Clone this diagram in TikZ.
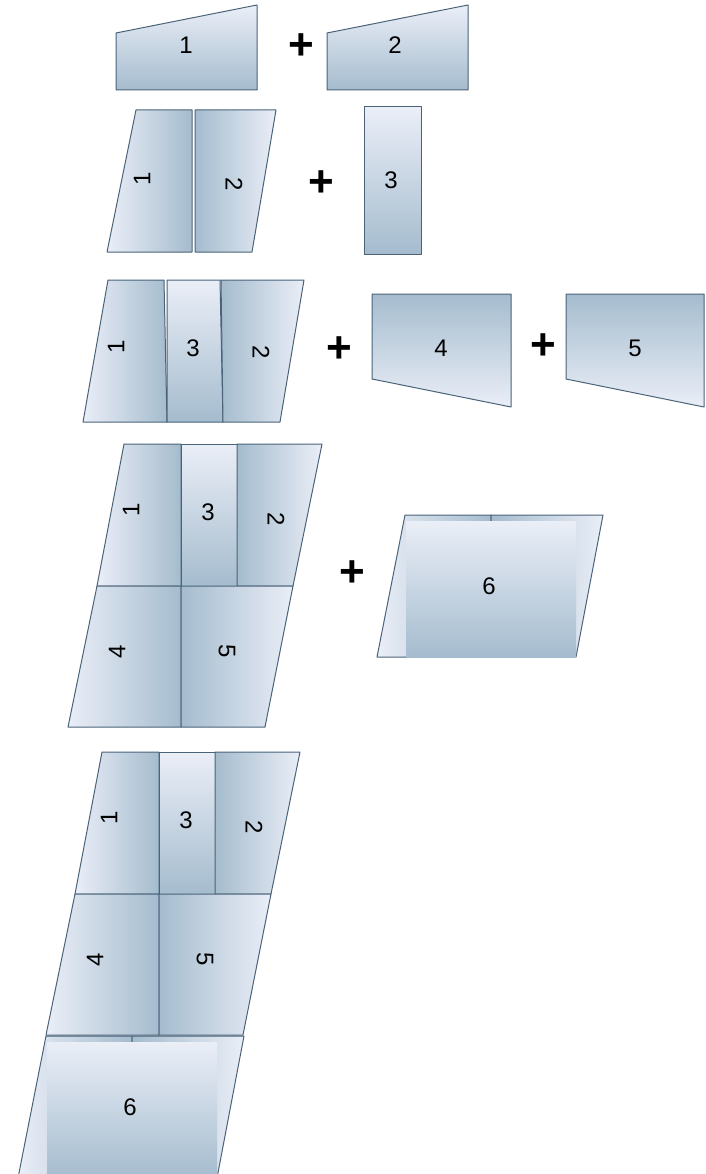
\documentclass[tikz,border=0pt]{standalone}
\usepackage{fontspec}
\setmainfont{Liberation Sans}
\definecolor{edge}{RGB}{74,99,121}
\definecolor{pale}{RGB}{234,238,247}
\definecolor{deep}{RGB}{165,188,206}
\begin{document}
\begin{tikzpicture}
[x=1pt, y=-1pt,
tile/.style={draw=edge, line width=1pt, line join=round},
lr/.style={tile, left color=pale, right color=deep},
rl/.style={tile, left color=deep, right color=pale},
tb/.style={tile, top color=pale, bottom color=deep},
bt/.style={tile, top color=deep, bottom color=pale},
num/.style={inner sep=0pt, font=\fontsize{24}{24}\selectfont},
plus/.style={inner sep=0pt, font=\fontsize{44}{44}\selectfont\bfseries}]
\path[use as bounding box, clip] (0,0) rectangle (706,1174);

% row 1
\path[tb] (116,33) -- (257,5) -- (257,90) -- (116,90) -- cycle;
\path[tb] (327,33) -- (468,5) -- (468,90) -- (327,90) -- cycle;
\node[num] (a1) at (186,45) {1};
\node[plus] (ap) at (301,47) {+};
\node[num] (a2) at (395,45) {2};

% row 2
\path[lr] (136,110) -- (192,110) -- (192,252) -- (107,252) -- cycle;
\path[rl] (195,110) -- (276,110) -- (252,252) -- (195,252) -- cycle;
\path[tb] (364,107) rectangle (421,254);
\node[num, rotate=90] (b1) at (142,179) {1};
\node[num, rotate=-90] (b2) at (234,184) {2};
\node[plus] (bp) at (321,184) {+};
\node[num] (b3) at (391,180) {3};

% row 3
\path[lr] (108,280) -- (164,280) -- (167,422) -- (83,422) -- cycle;
\path[tb] (167,280) -- (220,280) -- (223,422) -- (167,422) -- cycle;
\path[rl] (221,280) -- (304,280) -- (280,422) -- (223,422) -- cycle;
\path[bt] (372,294) -- (511,294) -- (511,407) -- (372,379) -- cycle;
\path[bt] (566,294) -- (704,294) -- (704,407) -- (566,379) -- cycle;
\node[num, rotate=90] (c1) at (116,347) {1};
\node[num] (c3) at (193,348) {3};
\node[num, rotate=-90] (c2) at (261,352) {2};
\node[plus] (cp1) at (339,350) {+};
\node[num] (c4) at (441,348) {4};
\node[plus] (cp2) at (543,347) {+};
\node[num] (c5) at (635,348) {5};

% rows 4 and 5
\foreach \dx/\dy/\sx/\sy/\r in {0/0/405/515/d, -22/308/46/1036/e} {
  \begin{scope}[shift={(\dx,\dy)}]
    \path[lr] (124,444) -- (181,444) -- (181,586) -- (97,586) -- cycle;
    \path[tb] (181,444) rectangle (237,586);
    \path[rl] (237,444) -- (322,444) -- (293,586) -- (237,586) -- cycle;
    \path[lr] (97,586) -- (181,586) -- (181,727) -- (68,727) -- cycle;
    \path[rl] (181,586) -- (293,586) -- (265,727) -- (181,727) -- cycle;
    \node[num, rotate=90] (\r1) at (131,510) {1};
    \node[num] (\r3) at (208,512) {3};
    \node[num, rotate=-90] (\r2) at (276,519) {2};
    \node[num, rotate=90] (\r4) at (117,652) {4};
    \node[num, rotate=-90] (\r5) at (227,651) {5};
  \end{scope}
  \begin{scope}[shift={(\sx,\sy)}]
    \path[lr] (0,0) -- (86,0) -- (86,142) -- (-28,142) -- cycle;
    \path[rl] (86,0) -- (198,0) -- (171,142) -- (86,142) -- cycle;
    \fill[top color=pale, bottom color=deep] (1,6) rectangle (171,142);
    \node[num] (\r6) at (84,71) {6};
  \end{scope}
}
\node[plus] (dp) at (352,574) {+};
\end{tikzpicture}
\end{document}
